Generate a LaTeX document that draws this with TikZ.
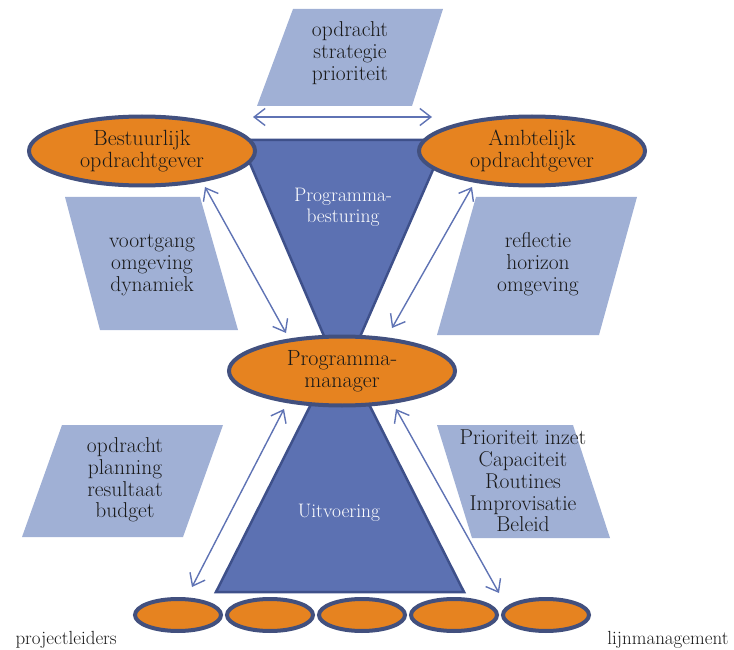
\documentclass[tikz,border=0pt]{standalone}
\usepackage{fontspec}
\usetikzlibrary{shapes.geometric,arrows.meta}
\definecolor{tri}{RGB}{92,113,178}
\definecolor{triborder}{RGB}{62,80,138}
\definecolor{para}{RGB}{160,176,213}
\definecolor{orng}{RGB}{230,131,32}
\definecolor{ellb}{RGB}{66,80,126}
\definecolor{arr}{RGB}{95,115,180}
\definecolor{txt}{RGB}{25,25,25}
\begin{document}
\begin{tikzpicture}[x=1pt,y=-1pt,
  bigell/.style={ellipse, draw=ellb, line width=4pt, fill=orng, align=center,
    font=\fontsize{22}{21.5}\selectfont, text=txt, inner sep=0pt,
    minimum width=226pt, minimum height=69pt},
  smallell/.style={ellipse, draw=ellb, line width=4pt, fill=orng, inner sep=0pt,
    minimum width=86pt, minimum height=32pt},
  triangle/.style={fill=tri, draw=triborder, line width=2.5pt, line join=miter},
  parashape/.style={fill=para, draw=none},
  ptext/.style={align=center, font=\fontsize{21.5}{21.8}\selectfont, text=txt},
  wtext/.style={align=center, font=\fontsize{19.5}{21}\selectfont, text=white},
  cornerlab/.style={font=\fontsize{19}{20}\selectfont, text=txt},
  conn/.style={draw=arr, line width=1.4pt,
    {Straight Barb[length=11pt,width=17pt]}-{Straight Barb[length=11pt,width=17pt]}}
]
\useasboundingbox (0,0) rectangle (734,650);

% triangles
\draw[triangle] (240,140) -- (446,140) -- (342,378) -- cycle;
\draw[triangle] (340,347) -- (464,592) -- (216,592) -- cycle;
\node[wtext] (besturing) at (343,207) {Programma-\\besturing};
\node[wtext] (uitvoering) at (339,513) {Uitvoering};

% parallelograms
\fill[parashape] (293,9) -- (443,9) -- (412,106) -- (257,106) -- cycle;
\node[ptext] (ptop) at (350,53) {opdracht\\strategie\\prioriteit};

\fill[parashape] (65,197) -- (200,197) -- (238,330) -- (100,330) -- cycle;
\node[ptext] (pleft) at (152,265) {voortgang\\omgeving\\dynamiek};

\fill[parashape] (476,197) -- (637,197) -- (599,335) -- (437,335) -- cycle;
\node[ptext] (pright) at (538,264) {reflectie\\horizon\\omgeving};

\fill[parashape] (62,425) -- (223,425) -- (183,537) -- (22,537) -- cycle;
\node[ptext] (plleft) at (125,480) {opdracht\\planning\\resultaat\\budget};

\fill[parashape] (437,425) -- (573,425) -- (610,538) -- (472,538) -- cycle;
\node[ptext] (plright) at (523,481) {Prioriteit inzet\\Capaciteit\\Routines\\Improvisatie\\Beleid};

% ellipses
\node[bigell] (best) at (142,151) {Bestuurlijk\\opdrachtgever};
\node[bigell] (ambt) at (532,151) {Ambtelijk\\opdrachtgever};
\node[bigell] (pm) at (342,371) {Programma-\\manager};
\node[smallell] (e1) at (178,615) {};
\node[smallell] (e2) at (270,615) {};
\node[smallell] (e3) at (362,615) {};
\node[smallell] (e4) at (454,615) {};
\node[smallell] (e5) at (546,615) {};

\node[cornerlab, anchor=base west] (pl) at (12,644) {projectleiders};
\node[cornerlab, anchor=base east] (lm) at (732,644) {lijnmanagement};

% connector end points
\coordinate (tA) at (253,117);
\coordinate (tB) at (432,117);
\coordinate (bestE) at (205,187);
\coordinate (pmNW) at (286,333);
\coordinate (ambtE) at (472,187);
\coordinate (pmNE) at (392,328);
\coordinate (pmSW) at (284,409);
\coordinate (e1N) at (192,587);
\coordinate (pmSE) at (396,409);
\coordinate (e5N) at (499,593);

\draw[conn] (tA) -- (tB);
\draw[conn] (bestE) -- (pmNW);
\draw[conn] (ambtE) -- (pmNE);
\draw[conn] (pmSW) -- (e1N);
\draw[conn] (pmSE) -- (e5N);
\end{tikzpicture}
\end{document}
